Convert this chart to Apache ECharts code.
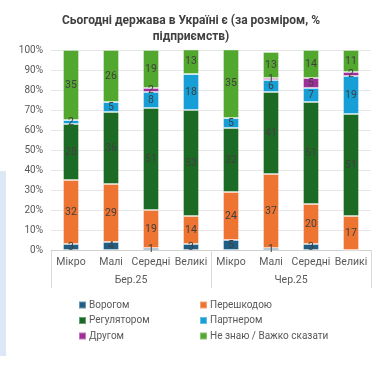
<!DOCTYPE html>
<html>
<head>
<meta charset="utf-8">
<script src="https://cdn.jsdelivr.net/npm/echarts@6/dist/echarts.min.js"></script>
<style>
  html, body { margin: 0; padding: 0; background: #fff; }
  #chart { width: 382px; height: 376px; }
</style>
</head>
<body>
<div id="chart"></div>
<script>
// категорії та групи
const categories = ['Мікро', 'Малі', 'Середні', 'Великі', 'Мікро', 'Малі', 'Середні', 'Великі']
const groups = ['Бер.25', 'Чер.25']
const yTicks = [0, 10, 20, 30, 40, 50, 60, 70, 80, 90, 100]

// значення, %
const vorogom = [3, 4, 1, 3, 5, 1, 3, 0]
const pereshkodoyu = [32, 29, 19, 14, 24, 37, 20, 17]
const regulyatorom = [28, 36, 51, 53, 32, 41, 51, 51]
const partnerom = [2, 5, 8, 18, 5, 6, 7, 19]
const drugom = [0, 0, 2, 0, 0, 1, 5, 2]
const neZnayu = [35, 26, 19, 13, 35, 13, 14, 11]

const seriesDefs = [
  { name: 'Ворогом', data: vorogom, color: '#1f5f86' },
  { name: 'Перешкодою', data: pereshkodoyu, color: '#ee7432' },
  { name: 'Регулятором', data: regulyatorom, color: '#1c6b25' },
  { name: 'Партнером', data: partnerom, color: '#169ed6' },
  { name: 'Другом', data: drugom, color: '#9f2f98' },
  { name: 'Не знаю / Важко сказати', data: neZnayu, color: '#52a82f' }
]

const chart = echarts.init(document.getElementById('chart'))

const font = 'Roboto, "Noto Sans", sans-serif'
const legendText = { color: '#595959', fontSize: 10, fontFamily: font, padding: [0, 0, 0, -2] }

chart.setOption({
  animation: false,
  title: {
    text: 'Сьогодні держава в Україні є (за розміром, %\nпідприємств)',
    left: 'center',
    top: 8,
    textStyle: {
      color: '#404040',
      fontSize: 12,
      fontWeight: 'bold',
      fontFamily: font,
      lineHeight: 16
    }
  },
  graphic: [
    {
      type: 'rect',
      shape: { x: 0, y: 171, width: 6, height: 185 },
      style: { fill: '#dce8f6' },
      silent: true
    }
  ],
  legend: [
    {
      data: ['Ворогом', 'Регулятором', 'Другом'],
      orient: 'vertical',
      left: 73,
      top: 295,
      itemWidth: 7,
      itemHeight: 7,
      itemGap: 5.5,
      icon: 'rect',
      textStyle: legendText
    },
    {
      data: ['Перешкодою', 'Партнером', 'Не знаю / Важко сказати'],
      orient: 'vertical',
      left: 194,
      top: 295,
      itemWidth: 7,
      itemHeight: 7,
      itemGap: 5.5,
      icon: 'rect',
      textStyle: legendText
    }
  ],
  grid: { left: 51, right: 11, top: 50, bottom: 126 },
  xAxis: [
    {
      type: 'category',
      data: categories,
      axisLine: { lineStyle: { color: '#d0d0d0' } },
      axisTick: { show: false },
      axisLabel: { color: '#595959', fontSize: 10.5, fontFamily: font, margin: 7, interval: 0 }
    },
    {
      type: 'category',
      data: groups,
      position: 'bottom',
      axisLine: { show: false },
      axisTick: { show: true, length: 38, lineStyle: { color: '#d9d9d9' } },
      axisLabel: { color: '#595959', fontSize: 10.5, fontFamily: font, margin: 25 }
    }
  ],
  yAxis: {
    type: 'value',
    min: yTicks[0],
    max: yTicks[yTicks.length - 1],
    interval: 10,
    axisLine: { show: false },
    axisTick: { show: false },
    splitLine: { lineStyle: { color: '#e6e6e6' } },
    axisLabel: { formatter: '{value}%', color: '#595959', fontSize: 10, fontFamily: font, margin: 8 }
  },
  series: seriesDefs.map(s => ({
    name: s.name,
    type: 'bar',
    stack: 'total',
    xAxisIndex: 0,
    barWidth: 16,
    data: s.data,
    itemStyle: { color: s.color, borderColor: 'rgba(255,255,255,0.35)', borderWidth: 1 },
    label: {
      show: true,
      position: 'inside',
      color: '#404040',
      fontSize: 10.5,
      fontFamily: font,
      formatter: p => (p.value > 0 ? p.value : '')
    }
  }))
})
</script>
</body>
</html>
